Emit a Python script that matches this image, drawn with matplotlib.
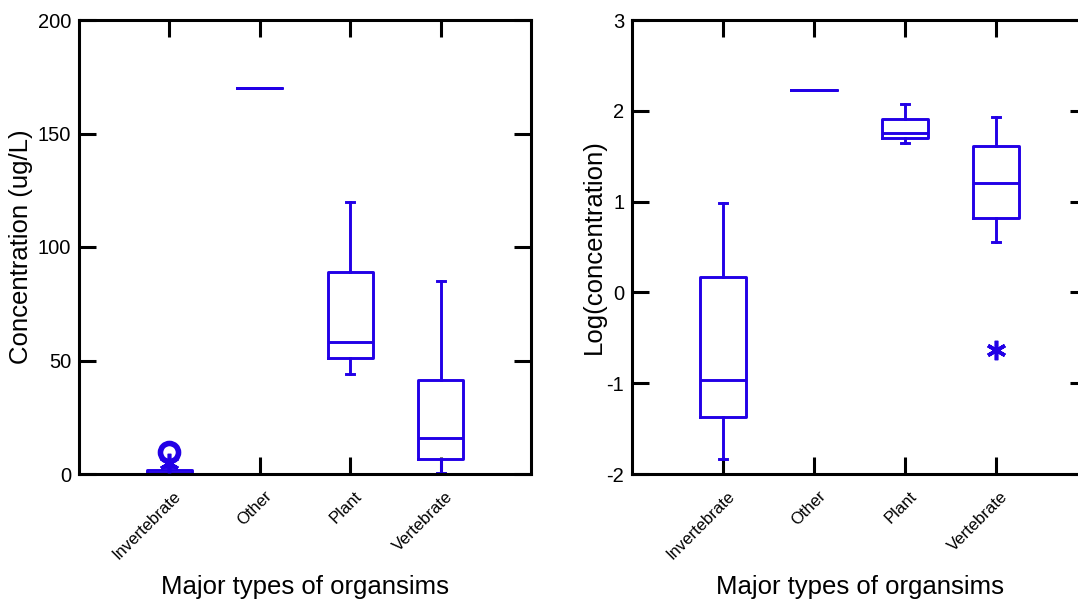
import matplotlib
matplotlib.use("Agg")
import matplotlib.pyplot as plt
import matplotlib.transforms as mtransforms

plt.rcParams["font.family"] = ["Liberation Sans", "DejaVu Sans"]
plt.rcParams["axes.unicode_minus"] = False

groups = ["Invertebrate", "Other", "Plant", "Vertebrate"]

# concentration (ug/L)
conc_whislo = [0.0, 170, 44, 0.3]
conc_q1 = [0.2, 170, 51, 6.6]
conc_med = [0.6, 170, 58, 16]
conc_q3 = [1.6, 170, 89, 41.4]
conc_whishi = [3.0, 170, 120, 85]
conc_star = [[5.0], [], [], []]       # outside values
conc_circle = [[9.7], [], [], []]     # far outside values

# log10(concentration), right panel
log_whislo = [-1.83, 2.23, 1.65, 0.55]
log_q1 = [-1.37, 2.23, 1.70, 0.82]
log_med = [-0.96, 2.23, 1.76, 1.21]
log_q3 = [0.165, 2.23, 1.91, 1.615]
log_whishi = [0.98, 2.23, 2.08, 1.93]
log_star = [[], [], [], [-0.63]]
log_circle = [[], [], [], []]

BLUE = "#2200E6"
W, H = 1078, 603

fig = plt.figure(figsize=(W / 100, H / 100), dpi=100)
ax1 = fig.add_axes([79 / W, (H - 474) / H, 452 / W, 454 / H])
ax2 = fig.add_axes([632 / W, (H - 474) / H, 455 / W, 454 / H])


def draw_panel(ax, whislo, q1, med, q3, whishi, stars, circles,
               ylim, yticks, ylabel, ylab_x):
    stats = []
    for a, b, c, d, e in zip(whislo, q1, med, q3, whishi):
        stats.append(dict(whislo=a, q1=b, med=c, q3=d, whishi=e, fliers=[]))
    pos = list(range(1, len(groups) + 1))
    lp = dict(color=BLUE, linewidth=2.1)
    ax.bxp(stats, positions=pos, widths=0.5, capwidths=0.09, showfliers=False,
           boxprops=lp, medianprops=lp, whiskerprops=lp, capprops=lp)

    for x, ys in zip(pos, stars):
        if ys:
            ax.plot([x] * len(ys), ys, ls="none", marker=(6, 2, 0), ms=14,
                    mew=2.6, color=BLUE, zorder=4)
    for x, ys in zip(pos, circles):
        if ys:
            ax.plot([x] * len(ys), ys, ls="none", marker="o", ms=13,
                    mew=4, mfc="none", mec=BLUE, zorder=4)

    ax.set_xlim(0, 5)
    ax.set_ylim(*ylim)
    ax.set_yticks(yticks)
    ax.set_xticks(pos)

    ax.tick_params(direction="in", length=12, width=2.2, top=True, right=True,
                   labelsize=14.5)
    ax.tick_params(axis="x", pad=0)
    ax.tick_params(axis="y", pad=5.5)
    for s in ax.spines.values():
        s.set_linewidth(2.2)

    # rotated category labels, nudged right/down like the original
    ax.set_xticklabels(groups, rotation=45, ha="right", va="top",
                       rotation_mode="anchor", fontsize=12)
    shift = mtransforms.ScaledTranslation(0.04, -0.145, fig.dpi_scale_trans)
    for lbl in ax.get_xticklabels():
        lbl.set_transform(lbl.get_transform() + shift)

    ax.set_ylabel(ylabel, fontsize=18.5)
    ax.yaxis.set_label_coords(ylab_x, 0.5)
    ax.set_xlabel("Major types of organsims", fontsize=18.5)
    ax.xaxis.set_label_coords(0.5, -0.222)


draw_panel(ax1, conc_whislo, conc_q1, conc_med, conc_q3, conc_whishi,
           conc_star, conc_circle, (0, 200), [0, 50, 100, 150, 200],
           "Concentration (ug/L)", -0.102)
draw_panel(ax2, log_whislo, log_q1, log_med, log_q3, log_whishi,
           log_star, log_circle, (-2, 3), [-2, -1, 0, 1, 2, 3],
           "Log(concentration)", -0.057)

fig.savefig("out.png", dpi=100)
